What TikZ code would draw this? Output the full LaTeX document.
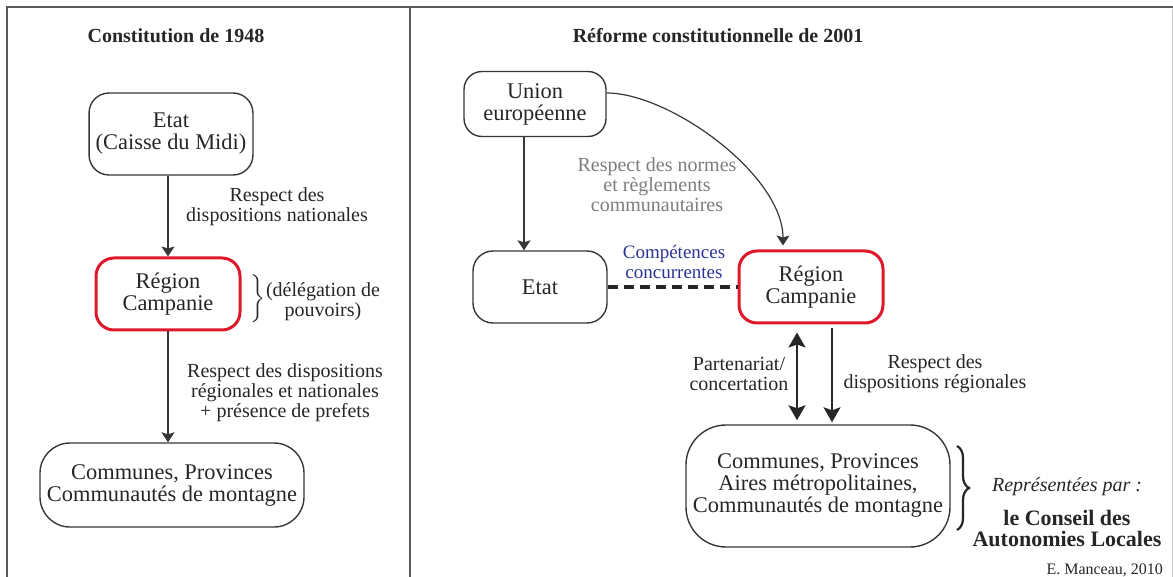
\documentclass[tikz,border=0pt]{standalone}
\usepackage{fontspec}
\setmainfont{Liberation Serif}
\usetikzlibrary{arrows.meta,decorations.pathreplacing}
\definecolor{rougeC}{RGB}{222,24,42}
\definecolor{bleuC}{RGB}{44,52,150}
\definecolor{grisC}{RGB}{125,125,125}
\definecolor{traitC}{RGB}{55,55,55}
\tikzset{
	boite/.style={draw=traitC,line width=0.7pt,align=center,text=black!85,font=\fontsize{11.2}{11}\selectfont},
	region/.style={boite,draw=rougeC,line width=1.5pt,rounded corners=9pt,minimum width=72pt,minimum height=36pt},
	lbl/.style={align=center,text=black!85,font=\fontsize{10}{10}\selectfont},
	titre/.style={text=black!85,font=\bfseries\fontsize{10}{12}\selectfont},
	fl/.style={-{Stealth[length=5pt,width=6.5pt,inset=1pt]},line width=0.6pt,draw=traitC},
	grosfl/.style={line width=1pt,draw=black!85}
}
\newcommand{\fleche}[2]{\draw[fl] (#1) -- (#2);}

\begin{document}
\begin{tikzpicture}[x=0.5pt,y=-0.5pt]
	\useasboundingbox (0,0) rectangle (1173,577);
	% cadre
	\draw[line width=1pt,black!65] (7,577) -- (7,7) -- (1173,7);
	\draw[line width=1pt,black!65] (410,7) -- (410,577);
	\draw[black!20] (1172,9) -- (1172,577);

	% Constitution de 1948
	\node[titre](t1) at (176,36) {Constitution de 1948};
	\node[boite,rounded corners=10pt,minimum width=79pt,minimum height=41pt](etat1) at (171,134) {Etat\\(Caisse du Midi)};
	\node[region](reg1) at (168,294) {Région\\Campanie};
	\node[boite,rounded corners=15pt,minimum width=132pt,minimum height=42pt](com1) at (172,485) {Communes, Provinces\\Communautés de montagne};

	\fleche{etat1.south -| reg1}{reg1.north}
	\fleche{reg1.south}{reg1.south |- com1.north}

	\node[lbl](l1) at (277,207) {Respect des\\dispositions nationales};
	\node[lbl](deleg) at (323,302) {(délégation de\\pouvoirs)};
	\node[text=black!85,inner sep=0pt](acc1) at (257,299) {$\left.\vrule height 9pt depth 9pt width 0pt\right\}$};
	\node[lbl](l2) at (285,393) {Respect des dispositions\\régionales et nationales\\+ présence de prefets};

	% Reforme de 2001
	\node[titre](t2) at (718,36) {Réforme constitutionnelle de 2001};
	\node[boite,rounded corners=9pt,minimum width=71pt,minimum height=32.5pt](ue) at (535,104) {Union\\européenne};
	\node[boite,rounded corners=10pt,minimum width=67pt,minimum height=36pt](etat2) at (540,287) {Etat};
	\node[region](reg2) at (811,287) {Région\\Campanie};
	\node[boite,rounded corners=20pt,minimum width=132pt,minimum height=61pt](com2) at (818,486) {Communes, Provinces\\Aires métropolitaines,\\Communautés de montagne};

	\coordinate (xue) at (524,0);
	\coordinate (xa) at (797,0);
	\coordinate (xb) at (832,0);

	\fleche{ue.south -| xue}{etat2.north -| xue}
	\draw[fl] ([yshift=5.5pt]ue.east) .. controls (670,93) and (783,175) .. ([xshift=-14pt,yshift=2pt]reg2.north);
	\draw[line width=1.7pt,dash pattern=on 5pt off 3pt,black!85] (etat2.east) -- (reg2.west);
	\draw[grosfl,{Stealth[length=7.5pt,width=8.5pt,inset=1.5pt]}-{Stealth[length=7.5pt,width=8.5pt,inset=1.5pt]},shorten <=4pt,shorten >=2pt] (reg2.south -| xa) -- (com2.north -| xa);
	\draw[grosfl,-{Stealth[length=7.5pt,width=8.5pt,inset=1.5pt]},shorten <=2pt,shorten >=1pt] (reg2.south -| xb) -- (com2.north -| xb);

	\node[lbl,text=grisC](l3) at (657,185) {Respect des normes\\et règlements\\communautaires};
	\node[lbl,text=bleuC,font=\fontsize{9.5}{10}\selectfont](l4) at (674,262) {Compétences\\concurrentes};
	\node[lbl](l5) at (739,374) {Partenariat/\\concertation};
	\node[lbl](l6) at (935,374) {Respect des\\dispositions régionales};

	\coordinate (acchaut) at (957,446);
	\coordinate (accbas) at (957,530);
	\draw[black!85,line width=1.1pt,decorate,decoration={brace,amplitude=6pt}] (acchaut) -- (accbas);
	\node[text=black!85,font=\itshape\fontsize{10}{12}\selectfont](rep) at (1067,487) {Représentées par :};
	\node[align=center,text=black!85,font=\bfseries\fontsize{11}{10.5}\selectfont](cal) at (1067,528) {le Conseil des\\Autonomies Locales};
	\node[anchor=east,text=black!85,font=\fontsize{8}{9}\selectfont](auteur) at (1170,570) {E. Manceau, 2010};
\end{tikzpicture}
\end{document}
